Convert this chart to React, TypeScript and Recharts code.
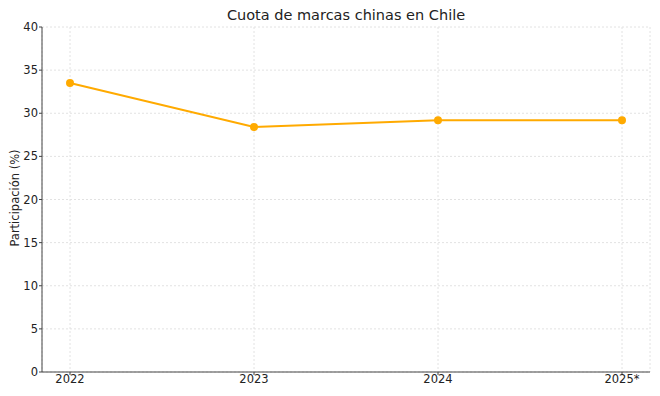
import { CartesianGrid, Line, LineChart, XAxis, YAxis } from "recharts";

const years = ["2022", "2023", "2024", "2025*"];
const share = [33.5, 28.4, 29.2, 29.2];
const yTicks = [0, 5, 10, 15, 20, 25, 30, 35, 40];

const data = years.map((year, i) => ({ year, share: share[i] }));

const font = "DejaVu Sans, sans-serif";
const tickStyle = { fontSize: 11.5, fill: "#222", fontFamily: font };

// cuota de mercado de marcas chinas, línea simple
export default function App() {
  return (
    <div style={{ position: "fixed", left: 0, top: 0, width: 660, height: 396, background: "#fff", fontFamily: font }}>
      <div
        style={{
          position: "absolute",
          left: 42,
          width: 608,
          top: 7,
          textAlign: "center",
          fontSize: 14.5,
          color: "#222",
        }}
      >
        Cuota de marcas chinas en Chile
      </div>
      <div
        style={{
          position: "absolute",
          left: 15,
          top: 198,
          transform: "translate(-50%, -50%) rotate(-90deg)",
          whiteSpace: "nowrap",
          fontSize: 11.5,
          lineHeight: "12px",
          color: "#222",
        }}
      >
        Participación (%)
      </div>
      <LineChart width={660} height={396} data={data} margin={{ top: 27, right: 10, bottom: 0, left: 0 }}>
        <CartesianGrid stroke="#e2e2e2" strokeDasharray="2 2" />
        <XAxis
          dataKey="year"
          padding={{ left: 28, right: 28 }}
          height={24}
          tickSize={3}
          tickMargin={0}
          tick={tickStyle}
          stroke="#444"
          interval={0}
        />
        <YAxis
          domain={[0, 40]}
          ticks={yTicks}
          width={42}
          tickSize={3}
          tickMargin={1}
          tick={tickStyle}
          stroke="#444"
        />
        <Line
          type="linear"
          dataKey="share"
          stroke="#ffaa00"
          strokeWidth={2}
          dot={{ r: 3, fill: "#ffaa00", stroke: "#ffaa00" }}
          isAnimationActive={false}
        />
      </LineChart>
    </div>
  );
}
